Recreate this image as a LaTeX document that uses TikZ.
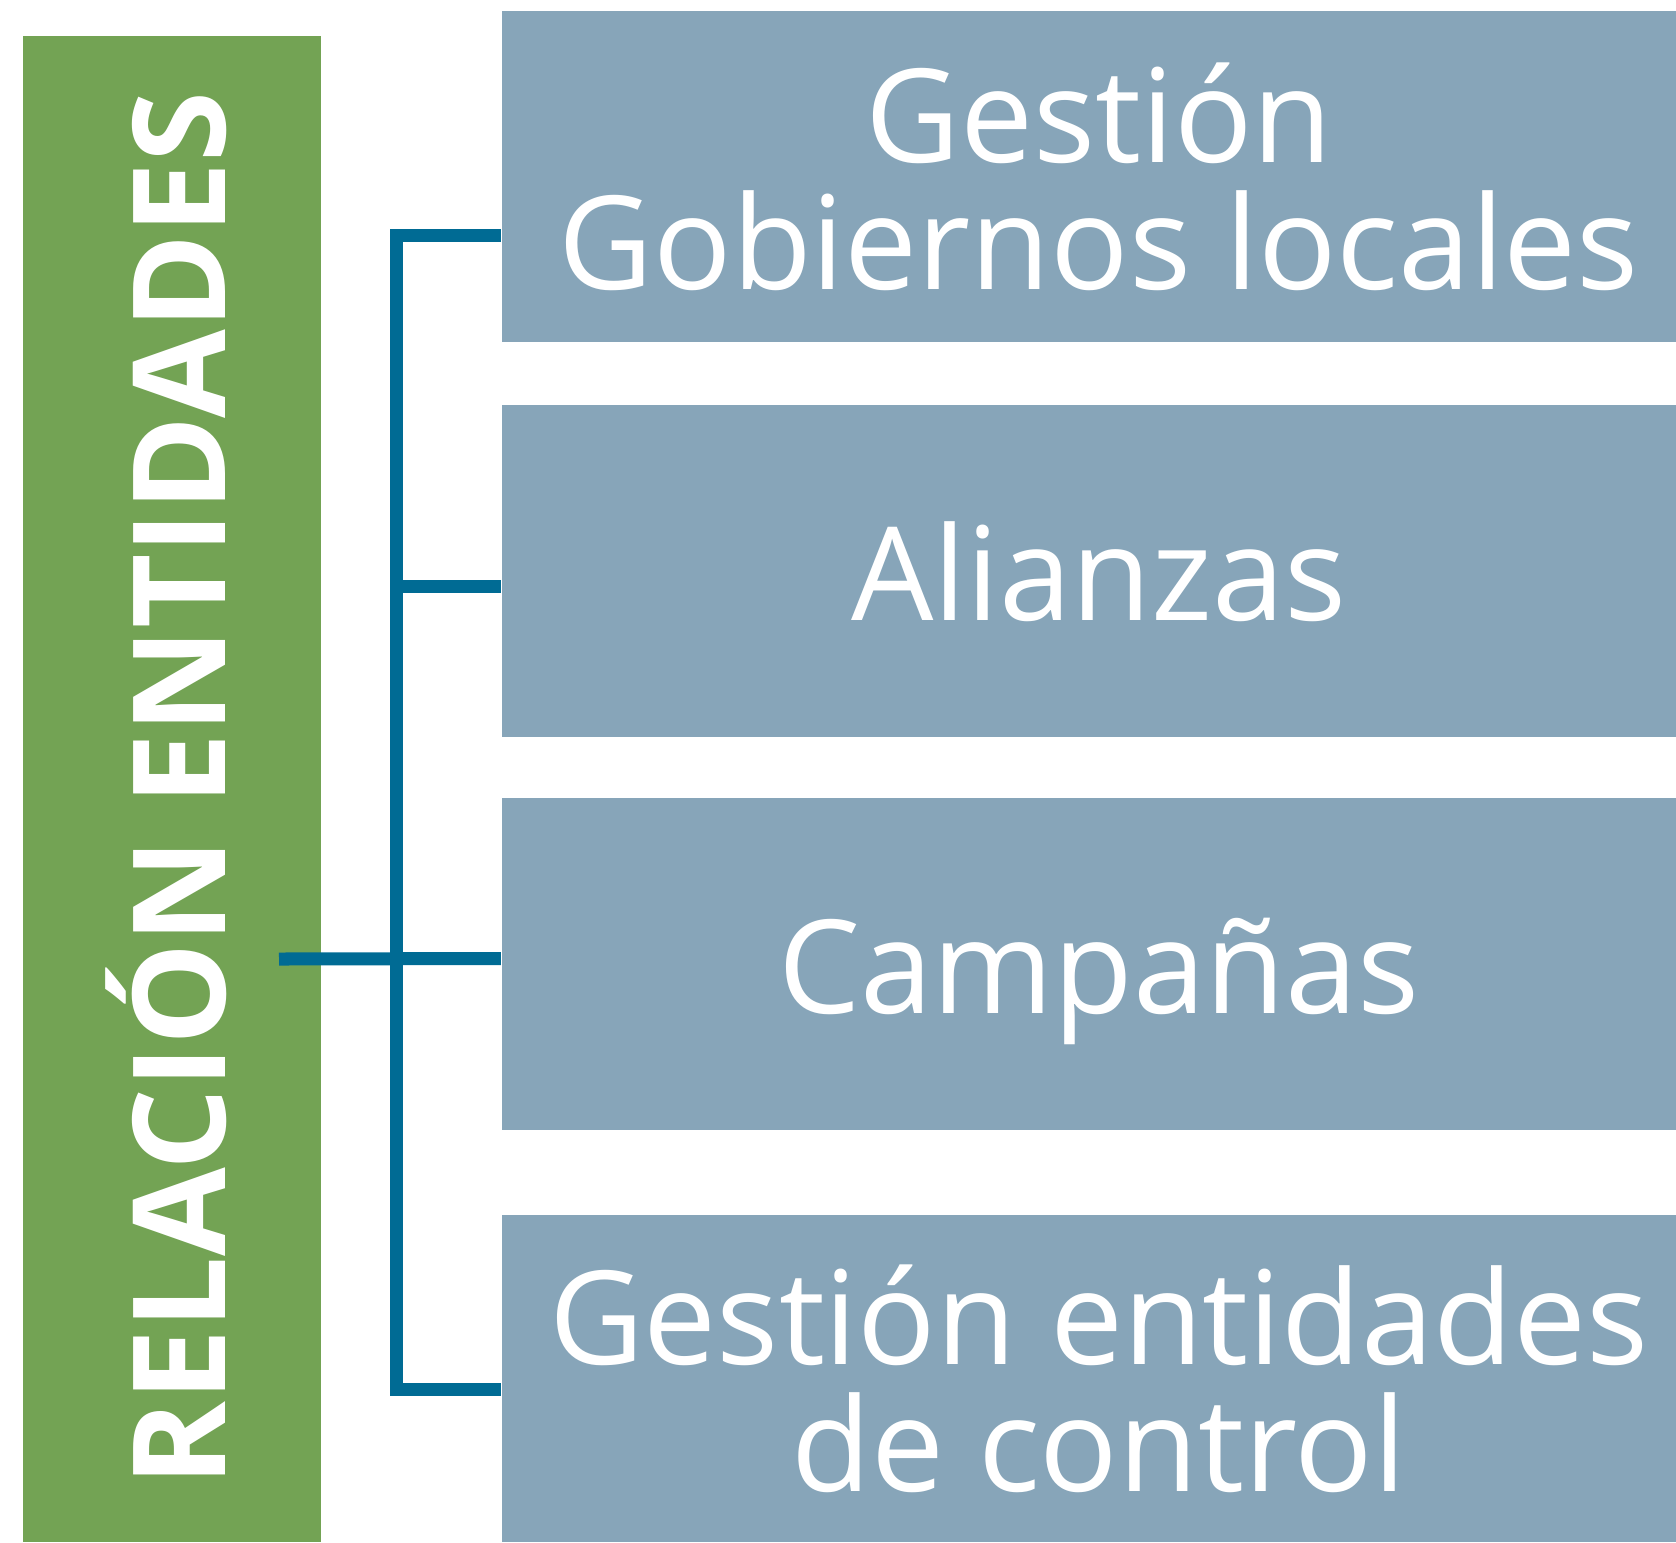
\documentclass[tikz,border=0pt]{standalone}
\usepackage{fontspec}
\setmainfont{Open Sans}
\usetikzlibrary{calc}
\definecolor{verde}{HTML}{73A354}
\definecolor{gris}{HTML}{87A5B9}
\definecolor{azul}{HTML}{006B94}

\tikzset{ent/.style={fill=gris, text=white, minimum width=11.94cm, minimum height=3.31cm,
  align=center, inner sep=0pt, font=\fontsize{37}{36.2}\selectfont}}
\tikzset{uno/.style={text height=0.98cm, text depth=0pt}}
\tikzset{lin/.style={draw=azul, line width=0.13cm}}

\begin{document}
\begin{tikzpicture}[x=0.01cm, y=-0.01cm]
\useasboundingbox (0,0) rectangle (1676,1542);
\node[fill=verde, text=white, rotate=90, inner sep=0pt, minimum width=15.06cm, minimum height=2.97cm,
      text height=1.07cm, text depth=0pt, font=\bfseries\fontsize{36.6}{36.6}\selectfont]
      (rel) at (172,789) {RELACIÓN ENTIDADES};
\node[ent] (gob) at (1099,176.5) {Gestión\\Gobiernos locales};
\node[ent, uno] (ali) at (1099,571) {Alianzas};
\node[ent, uno] (cam) at (1099,964) {Campañas};
\node[ent, minimum height=3.27cm] (ctl) at (1099,1378.5) {Gestión entidades\\de control};
% conectores
\coordinate (stub) at (279,959);
\draw[lin] ($(gob.west)+(0,58.5)$) -| ($(ctl.west)+(-104.4,10.5)$) -- ($(ctl.west)+(0,10.5)$);
\draw[lin] ($(ali.west)+(-104.4,15)$) -- ($(ali.west)+(0,15)$);
\draw[lin] (stub) -- ($(cam.west)+(0,-5.5)$);
\end{tikzpicture}
\end{document}
